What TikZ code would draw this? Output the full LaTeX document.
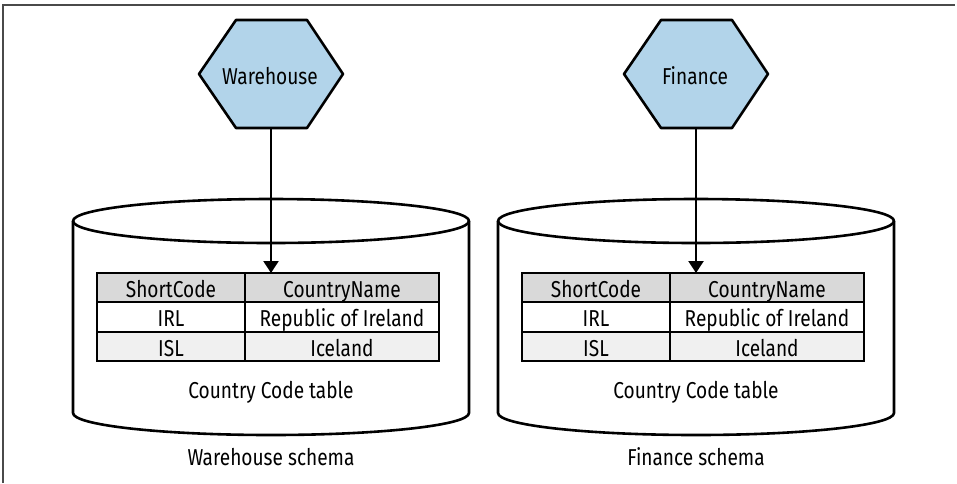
\documentclass[tikz,border=0pt]{standalone}
\usepackage{fontspec}
\setmainfont[FakeStretch=0.83]{Fira Sans}
\usetikzlibrary{arrows.meta}
\definecolor{hexblue}{HTML}{B2D4EA}
\definecolor{headgray}{HTML}{D9D9D9}
\definecolor{rowgray}{HTML}{F0F0F0}
\definecolor{framegray}{HTML}{4A4A4A}
\tikzset{
  txt/.style={font=\fontsize{23}{27}\selectfont, anchor=base, inner sep=0pt},
  outline/.style={draw=black, line width=2.6pt, line join=round},
  cell/.style={draw=black, line width=2.6pt},
  conn/.style={draw=black, line width=2.3pt, -{Triangle[width=15pt,length=12pt]}},
}
\newcommand\drawschema[4]{%
  % #1 centre x, #2 hexagon label, #3 schema label, #4 prefix
  \begin{scope}[shift={(#1,0)}]
    % hexagon
    \draw[outline, fill=hexblue] (-35,20) -- (36,20) -- (72,74) -- (36,128) -- (-35,128) -- (-72,74) -- cycle;
    \node[txt] (#4hex) at (-1,84) {#2};
    \coordinate (#4hexb) at (0,128);
    % cylinder
    \draw[outline] (-198,221) -- (-198,413) arc[start angle=180, end angle=0, x radius=198, y radius=22] -- (198,221);
    \draw[outline] (0,221) ellipse[x radius=198, y radius=22];
    % table
    \fill[headgray] (-174,273) rectangle (168,302);
    \fill[rowgray] (-174,332) rectangle (168,361);
    \draw[cell] (-174,273) rectangle (168,361);
    \draw[cell] (-174,302) -- (168,302);
    \draw[cell] (-174,332) -- (168,332);
    \draw[cell] (-26,273) -- (-26,361);
    \coordinate (#4tabtop) at (0,273);
    \node[txt] (#4h1) at (-100,297) {ShortCode};
    \node[txt] (#4h2) at (71,297) {CountryName};
    \node[txt] (#4a1) at (-100,326) {IRL};
    \node[txt] (#4a2) at (71,326) {Republic of Ireland};
    \node[txt] (#4b1) at (-100,356) {ISL};
    \node[txt] (#4b2) at (71,356) {Iceland};
    \node[txt] (#4tab) at (0,398) {Country Code table};
    \node[txt] (#4sch) at (0,465) {#3};
    \draw[conn] (#4hexb) -- (#4tabtop);
  \end{scope}}
\begin{document}
\begin{tikzpicture}[x=1pt,y=-1pt]
\useasboundingbox (0,0) rectangle (957,483);
\draw[framegray, line width=1.3pt] (3,483) -- (3,5) -- (955,5);
\drawschema{271}{Warehouse}{Warehouse schema}{w}
\drawschema{696}{Finance}{Finance schema}{f}
\end{tikzpicture}
\end{document}
